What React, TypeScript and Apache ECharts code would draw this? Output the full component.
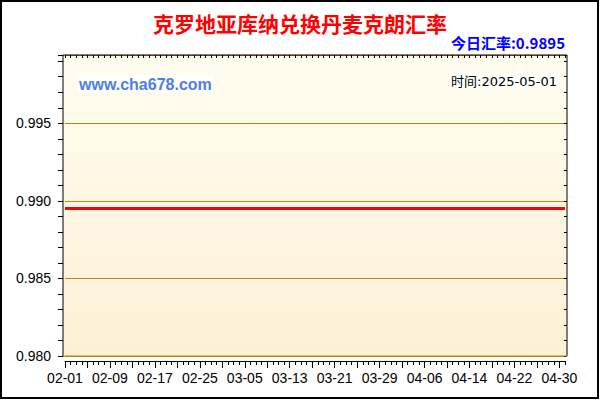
import React, { useEffect, useRef } from 'react';
import * as echarts from 'echarts';

const dates = [
  '02-01', '02-02', '02-03', '02-04', '02-05', '02-06', '02-07', '02-08', '02-09', '02-10',
  '02-11', '02-12', '02-13', '02-14', '02-15', '02-16', '02-17', '02-18', '02-19', '02-20',
  '02-21', '02-22', '02-23', '02-24', '02-25', '02-26', '02-27', '02-28',
  '03-01', '03-02', '03-03', '03-04', '03-05', '03-06', '03-07', '03-08', '03-09', '03-10',
  '03-11', '03-12', '03-13', '03-14', '03-15', '03-16', '03-17', '03-18', '03-19', '03-20',
  '03-21', '03-22', '03-23', '03-24', '03-25', '03-26', '03-27', '03-28', '03-29', '03-30', '03-31',
  '04-01', '04-02', '04-03', '04-04', '04-05', '04-06', '04-07', '04-08', '04-09', '04-10',
  '04-11', '04-12', '04-13', '04-14', '04-15', '04-16', '04-17', '04-18', '04-19', '04-20',
  '04-21', '04-22', '04-23', '04-24', '04-25', '04-26', '04-27', '04-28', '04-29', '04-30',
  '05-01'
];

const rates = [
  0.9895, 0.9895, 0.9895, 0.9895, 0.9895, 0.9895, 0.9895, 0.9895, 0.9895, 0.9895,
  0.9895, 0.9895, 0.9895, 0.9895, 0.9895, 0.9895, 0.9895, 0.9895, 0.9895, 0.9895,
  0.9895, 0.9895, 0.9895, 0.9895, 0.9895, 0.9895, 0.9895, 0.9895, 0.9895, 0.9895,
  0.9895, 0.9895, 0.9895, 0.9895, 0.9895, 0.9895, 0.9895, 0.9895, 0.9895, 0.9895,
  0.9895, 0.9895, 0.9895, 0.9895, 0.9895, 0.9895, 0.9895, 0.9895, 0.9895, 0.9895,
  0.9895, 0.9895, 0.9895, 0.9895, 0.9895, 0.9895, 0.9895, 0.9895, 0.9895, 0.9895,
  0.9895, 0.9895, 0.9895, 0.9895, 0.9895, 0.9895, 0.9895, 0.9895, 0.9895, 0.9895,
  0.9895, 0.9895, 0.9895, 0.9895, 0.9895, 0.9895, 0.9895, 0.9895, 0.9895, 0.9895,
  0.9895, 0.9895, 0.9895, 0.9895, 0.9895, 0.9895, 0.9895, 0.9895, 0.9895, 0.9895
];

const yMin = 0.98;
const yMax = 0.9994;

const titleText = '克罗地亚库纳兑换丹麦克朗汇率';
const todayText = '今日汇率:0.9895';
const siteText = 'www.cha678.com';
const timeText = '时间:2025-05-01';

const gold = '#b8860b';
const gridPos = { left: 65, right: 35, top: 55, bottom: 44 };

export default function App() {
  const chartRef = useRef<HTMLDivElement>(null);

  useEffect(() => {
    if (!chartRef.current) return;
    const chart = echarts.init(chartRef.current, null, { renderer: 'svg' });

    const option: echarts.EChartsOption = {
      animation: false,
      backgroundColor: '#ffffff',
      grid: [
        { ...gridPos },
        { ...gridPos }
      ],
      xAxis: [
        {
          type: 'category',
          gridIndex: 0,
          position: 'bottom',
          offset: 5,
          data: dates,
          boundaryGap: false,
          axisLine: { show: true, lineStyle: { color: '#000', width: 1 } },
          axisTick: { show: true, interval: 0, length: 4, lineStyle: { color: '#000' } },
          axisLabel: { show: false },
          splitLine: { show: false }
        },
        {
          type: 'category',
          gridIndex: 0,
          position: 'top',
          data: dates,
          boundaryGap: false,
          axisLine: { show: false },
          axisTick: { show: true, inside: true, interval: 0, length: 3, lineStyle: { color: '#000' } },
          axisLabel: { show: false },
          splitLine: { show: false }
        },
        {
          type: 'category',
          gridIndex: 1,
          position: 'bottom',
          offset: 5,
          data: dates,
          boundaryGap: false,
          axisLine: { show: false },
          axisTick: { show: true, interval: 3, length: 7, lineStyle: { color: '#000' } },
          axisLabel: {
            interval: 7,
            margin: 10,
            color: '#000',
            fontSize: 14,
            fontFamily: '"Liberation Sans", Arial, sans-serif'
          },
          splitLine: { show: false }
        }
      ],
      yAxis: [
        {
          type: 'value',
          gridIndex: 0,
          position: 'left',
          offset: 2,
          min: yMin,
          max: yMax,
          interval: 0.001,
          axisLine: { show: false },
          axisTick: { show: true, length: 5, lineStyle: { color: '#000' } },
          axisLabel: {
            margin: 12,
            color: '#000',
            fontSize: 14,
            fontFamily: '"Liberation Sans", Arial, sans-serif',
            formatter: (v: number) => {
              const k = v * 200;
              return Math.abs(k - Math.round(k)) < 1e-6 ? v.toFixed(3) : '';
            }
          },
          splitLine: { show: false }
        },
        {
          type: 'value',
          gridIndex: 0,
          position: 'right',
          offset: 2,
          min: yMin,
          max: yMax,
          interval: 0.001,
          axisLine: { show: false },
          axisTick: { show: true, inside: true, length: 3, lineStyle: { color: '#000' } },
          axisLabel: { show: false },
          splitLine: { show: false }
        },
        {
          type: 'value',
          gridIndex: 1,
          min: yMin,
          max: yMax,
          interval: 0.005,
          axisLine: { show: false },
          axisTick: { show: false },
          axisLabel: { show: false },
          splitLine: { show: true, lineStyle: { color: gold, width: 1 } }
        }
      ],
      series: [
        {
          type: 'line',
          xAxisIndex: 0,
          yAxisIndex: 0,
          data: rates,
          showSymbol: false,
          symbol: 'none',
          lineStyle: { color: '#ff0000', width: 3 },
          z: 5
        }
      ],
      graphic: [
        {
          type: 'rect',
          z: -1,
          shape: { x: 63, y: 55, width: 504, height: 301 },
          style: {
            fill: new echarts.graphic.LinearGradient(0, 0, 0, 1, [
              { offset: 0, color: '#fffdf0' },
              { offset: 1, color: '#fdf0d6' }
            ])
          }
        },
        {
          type: 'rect',
          z: 20,
          shape: { x: 1, y: 1, width: 597, height: 397 },
          style: { fill: 'none', stroke: '#000', lineWidth: 2 }
        },
        {
          type: 'line',
          z: 20,
          shape: { x1: 63, y1: 55, x2: 567, y2: 55 },
          style: { stroke: '#000', lineWidth: 1 }
        },
        {
          type: 'line',
          z: 20,
          shape: { x1: 63, y1: 55, x2: 63, y2: 357 },
          style: { stroke: '#000', lineWidth: 1 }
        },
        {
          type: 'line',
          z: 20,
          shape: { x1: 567, y1: 55, x2: 567, y2: 356 },
          style: { stroke: '#000', lineWidth: 1 }
        },
        {
          type: 'line',
          z: 20,
          shape: { x1: 63, y1: 356, x2: 567, y2: 356 },
          style: { stroke: gold, lineWidth: 1 }
        },
        {
          type: 'text',
          z: 20,
          x: 300,
          y: 23,
          style: {
            text: titleText,
            fill: '#ff0000',
            font: 'bold 21px "Noto Sans CJK SC", sans-serif',
            textAlign: 'center',
            textVerticalAlign: 'middle'
          }
        },
        {
          type: 'text',
          z: 20,
          x: 565,
          y: 42,
          style: {
            text: todayText,
            fill: '#0000ff',
            font: 'bold 15px "Noto Sans CJK SC", sans-serif',
            textAlign: 'right',
            textVerticalAlign: 'middle'
          }
        },
        {
          type: 'text',
          z: 20,
          x: 77,
          y: 84,
          style: {
            text: siteText,
            fill: '#4f7de6',
            font: 'bold 16px "Liberation Sans", Arial, sans-serif',
            textAlign: 'left',
            textVerticalAlign: 'middle',
            backgroundColor: '#fffffc',
            padding: [1, 2]
          }
        },
        {
          type: 'text',
          z: 20,
          x: 559,
          y: 81,
          style: {
            text: timeText,
            fill: '#000',
            font: '13px "DejaVu Sans", "Noto Sans CJK SC", sans-serif',
            textAlign: 'right',
            textVerticalAlign: 'middle',
            backgroundColor: '#fffffc',
            padding: [1, 2]
          }
        }
      ]
    };

    chart.setOption(option);
    return () => {
      chart.dispose();
    };
  }, []);

  return (
    <div
      ref={chartRef}
      style={{ position: 'fixed', left: 0, top: 0, width: 600, height: 400 }}
    />
  );
}
